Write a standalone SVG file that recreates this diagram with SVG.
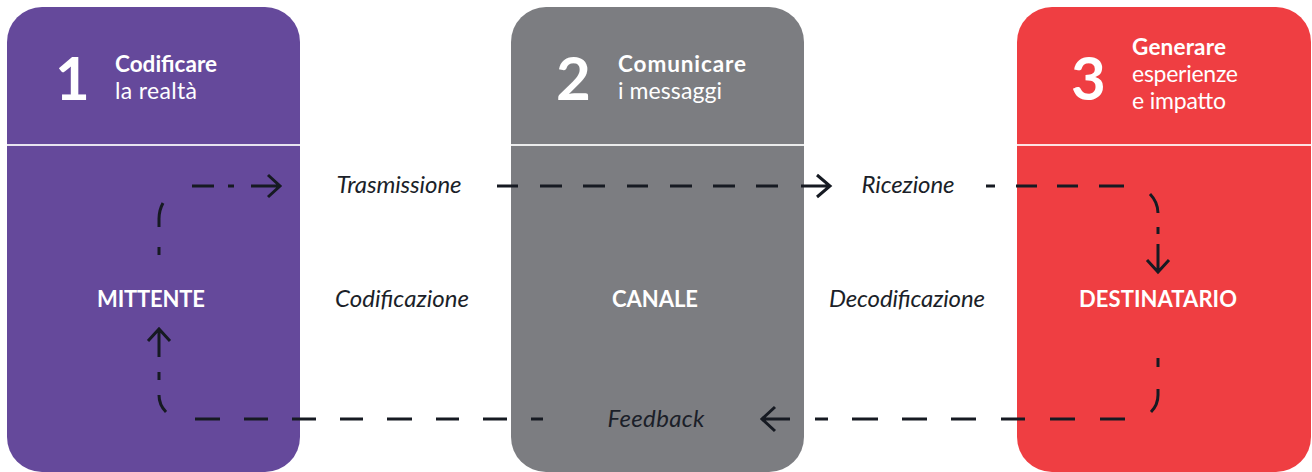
<svg xmlns="http://www.w3.org/2000/svg" width="1312" height="472" viewBox="0 0 1312 472">
<defs>
<style>
.card{stroke:none}
.div{stroke:#ffffff;stroke-opacity:0.85;stroke-width:2}
.num{font-family:"Lato","Open Sans",sans-serif;font-weight:700;font-size:60px;fill:#ffffff}
.hb{font-family:"Lato","Open Sans",sans-serif;font-weight:700;font-size:22.5px;fill:#ffffff}
.hr{font-family:"Lato","Open Sans",sans-serif;font-weight:400;font-size:23px;fill:#ffffff}
.nm{font-family:"Lato","Open Sans",sans-serif;font-weight:700;font-size:22px;fill:#ffffff;text-anchor:middle}
.lb{font-family:"Lato","Open Sans",sans-serif;font-style:italic;font-size:24px;fill:#1b1f29;text-anchor:middle}
.ln{fill:none;stroke:#161a22;stroke-width:3;stroke-linecap:butt;stroke-linejoin:miter}
</style>
</defs>
<rect width="1312" height="472" fill="#ffffff"/>
<g id="node-mittente">
<rect class="card" x="7" y="7" width="293" height="465" rx="35" ry="35" fill="#65499b"/>
<line class="div" x1="7" y1="145" x2="300" y2="145"/>
<text class="num" x="55" y="100">1</text>
<text class="hb" x="115" y="72" textLength="102" lengthAdjust="spacing">Codificare</text>
<text class="hr" x="115" y="99" textLength="82" lengthAdjust="spacing">la realtà</text>
<text class="nm" x="151" y="307" textLength="108" lengthAdjust="spacing">MITTENTE</text>
</g>
<g id="node-canale">
<rect class="card" x="511" y="7" width="293" height="465" rx="35" ry="35" fill="#7c7d81"/>
<line class="div" x1="511" y1="145" x2="804" y2="145"/>
<text class="num" x="556" y="100">2</text>
<text class="hb" x="618" y="72" textLength="128" lengthAdjust="spacing">Comunicare</text>
<text class="hr" x="618" y="99" textLength="104" lengthAdjust="spacing">i messaggi</text>
<text class="nm" x="655" y="307" textLength="86" lengthAdjust="spacing">CANALE</text>
</g>
<g id="node-destinatario">
<rect class="card" x="1017" y="7" width="294" height="465" rx="35" ry="35" fill="#ef3e42"/>
<line class="div" x1="1017" y1="145" x2="1311" y2="145"/>
<text class="num" x="1071" y="100">3</text>
<text class="hb" x="1132" y="55" textLength="94" lengthAdjust="spacing">Generare</text>
<text class="hr" x="1132" y="82" textLength="106" lengthAdjust="spacing">esperienze</text>
<text class="hr" x="1132" y="109" textLength="94" lengthAdjust="spacing">e impatto</text>
<text class="nm" x="1158" y="307" textLength="158" lengthAdjust="spacing">DESTINATARIO</text>
</g>
<g id="labels">
<text class="lb" x="399" y="193" textLength="125" lengthAdjust="spacing">Trasmissione</text>
<text class="lb" x="402" y="307" textLength="134" lengthAdjust="spacing">Codificazione</text>
<text class="lb" x="908" y="193" textLength="93" lengthAdjust="spacing">Ricezione</text>
<text class="lb" x="907" y="307" textLength="156" lengthAdjust="spacing">Decodificazione</text>
<text class="lb" x="656" y="427" textLength="97" lengthAdjust="spacing">Feedback</text>
</g>
<g id="connectors">
<path class="ln" d="M159,255 V247 M159,227 V219 A33,33 0 0 1 163,203 M192,186 H214 M228,186 H234 M251,186 H279 M268,175 L280,186 L268,197"/>
<path class="ln" d="M497,186 H518 M540,186 H562 M583,186 H605 M627,186 H648 M670,186 H692 M713,186 H735 M756,186 H778 M801,186 H829 M817,175 L830,186 L817,197"/>
<path class="ln" d="M986,186 H995 M1016,186 H1037 M1057,186 H1078 M1099,186 H1124 M1150,194 A28,28 0 0 1 1158,213 M1158,227 V234 M1158,244 V271 M1147,260 L1158,272 L1169,260"/>
<path class="ln" d="M1158,358 V367 M1158,389 V395 A24,24 0 0 1 1151,412 M1125,419 H1100 M1075,419 H1050 M1025,419 H1001 M976,419 H951 M927,419 H902 M878,419 H852 M828,419 H815 M790,419 H763 M775,407 L762,419 L775,431"/>
<path class="ln" d="M543,419 H531 M507,419 H483 M459,419 H436 M412,419 H387 M363,419 H340 M316,419 H292 M268,419 H244 M220,419 H195 M159,395 A24,24 0 0 0 166,412 M159,380 V372 M159,357 V330 M148,341 L159,329 L170,341"/>
</g>
</svg>
